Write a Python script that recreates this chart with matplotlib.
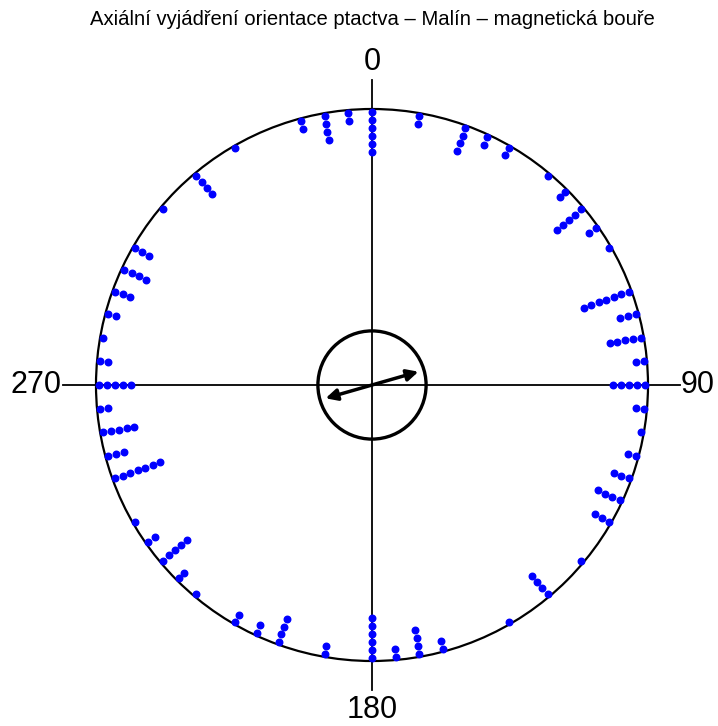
import numpy as np
import matplotlib.pyplot as plt
from matplotlib.patches import Circle, FancyArrowPatch

# bearings (deg, clockwise from north) and number of birds at each bearing
bearings = [0, 10, 20, 25, 30, 40, 45, 50, 55, 60, 70, 75, 80, 85,
            90, 95, 100, 105, 110, 115, 120, 130, 140, 150, 165, 170, 175,
            180, 190, 200, 205, 210, 220, 225, 230, 235, 240, 250, 255, 260,
            265, 270, 275, 280, 285, 290, 295, 300, 310, 320, 330, 345, 350, 355]
counts = [6, 2, 4, 2, 2, 1, 2, 5, 2, 1, 7, 3, 5, 2,
          5, 2, 1, 2, 3, 4, 3, 1, 4, 1, 2, 4, 2,
          6, 2, 4, 2, 2, 1, 2, 5, 2, 1, 7, 3, 5,
          2, 5, 2, 1, 2, 3, 4, 3, 1, 4, 1, 2, 4, 2]

mean_axis = 74.0      # mean axial direction
mean_length = 0.175   # resultant length
ref_radius = 0.196    # significance circle

title = "Axiální vyjádření orientace ptactva – Malín – magnetická bouře"

W, H, dpi = 718, 726, 100
cx, cy, R = 372, 385, 276

plt.rcParams["font.family"] = ["Liberation Sans", "DejaVu Sans"]

fig = plt.figure(figsize=(W / dpi, H / dpi), dpi=dpi)
ax = fig.add_axes([0, 0, 1, 1])
ax.set_xlim(-cx / R, (W - cx) / R)
ax.set_ylim(-(H - cy) / R, cy / R)
ax.axis("off")

# outer circle and cross-hair
ax.add_patch(Circle((0, 0), 1.0, fill=False, lw=1.6, color="black"))
ax.plot([-(cx - 63) / R, (680 - cx) / R], [0, 0], color="black", lw=1.3)
ax.plot([0, 0], [-(690 - cy) / R, (cy - 80) / R], color="black", lw=1.3)

# stacked dots, outermost on the circle
step = 0.029
for b, n in zip(bearings, counts):
    th = np.radians(b)
    r = 0.99 - step * np.arange(n)
    ax.plot(r * np.sin(th), r * np.cos(th), "o", color="#0000ff",
            ms=4.7, mec="#0000ff", ls="none")

# mean axis as a double-headed arrow and the inner circle
ax.add_patch(Circle((0, 0), ref_radius, fill=False, lw=2.4, color="black"))
th = np.radians(mean_axis)
p1 = (mean_length * np.sin(th), mean_length * np.cos(th))
p2 = (-p1[0], -p1[1])
ax.add_patch(FancyArrowPatch(p2, p1, arrowstyle="<|-|>", mutation_scale=17,
                             lw=2.5, color="black", shrinkA=0, shrinkB=0))

# direction labels
ax.text(0, (cy - 62) / R, "0", ha="center", va="center", fontsize=22)
ax.text(0, -(710 - cy) / R, "180", ha="center", va="center", fontsize=22)
ax.text(-(cx - 36) / R, 0, "270", ha="center", va="center", fontsize=22)
ax.text((698 - cx) / R, 0, "90", ha="center", va="center", fontsize=22)

ax.text(0, (cy - 20) / R, title, ha="center", va="center", fontsize=14.6)

fig.savefig("out.png", dpi=dpi)
